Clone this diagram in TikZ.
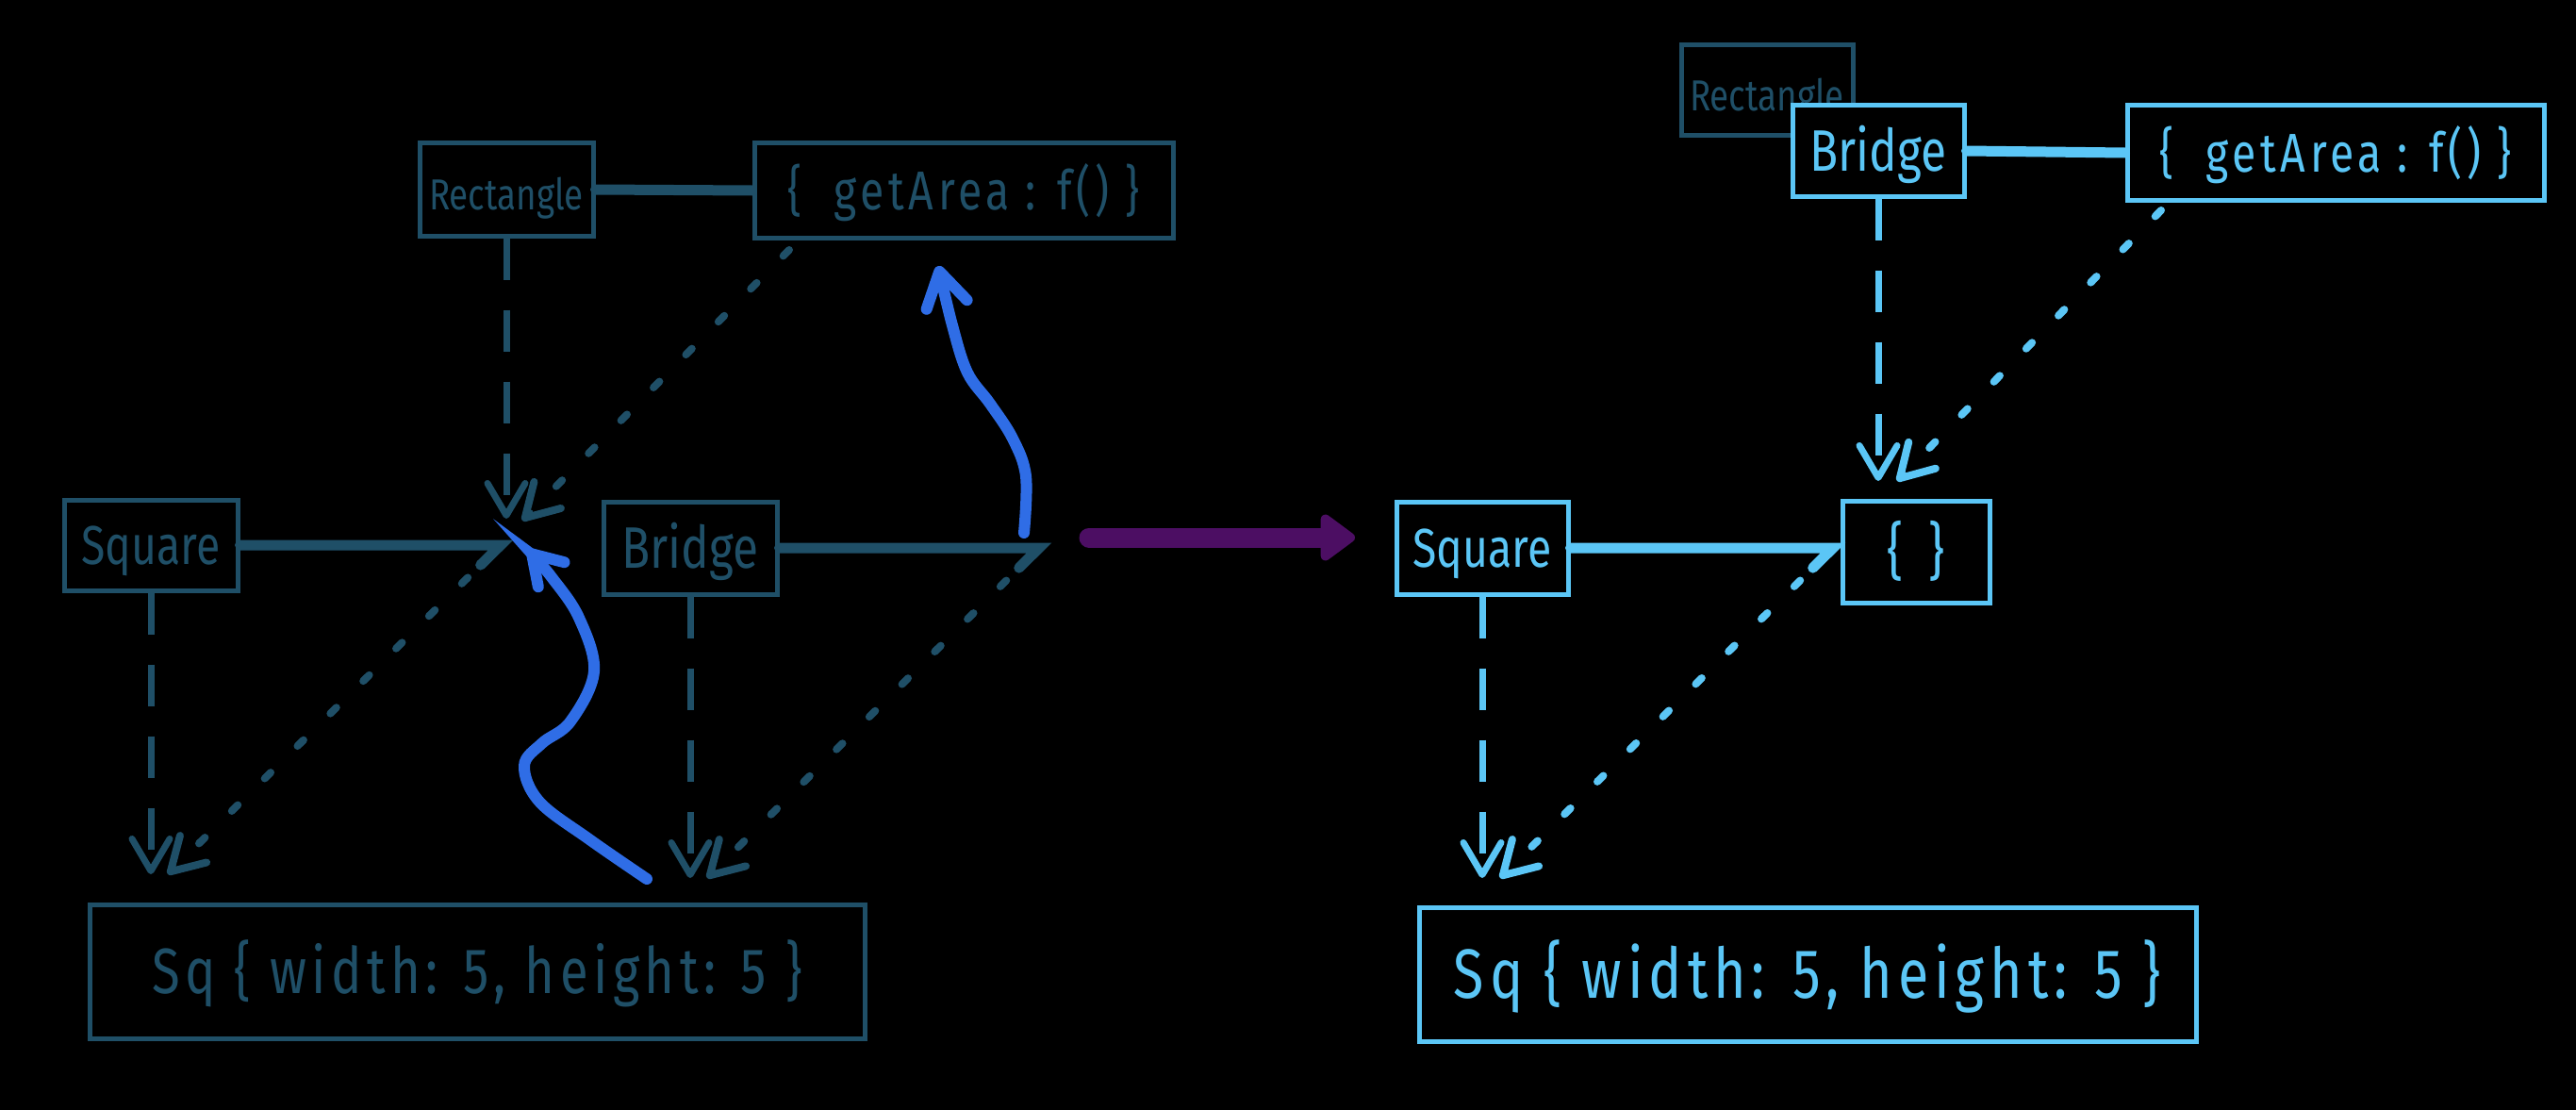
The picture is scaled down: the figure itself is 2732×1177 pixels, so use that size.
\documentclass[tikz,border=0pt]{standalone}
\usepackage{fontspec}
\newfontfamily\hand[FakeStretch=0.8]{Fira Sans}
\usetikzlibrary{arrows.meta,calc}
\definecolor{dteal}{HTML}{1F4F67}
\definecolor{lblue}{HTML}{5BC6F6}
\definecolor{ablue}{HTML}{2F6DE6}
\definecolor{purp}{HTML}{4C0E63}
\begin{document}
\begin{tikzpicture}[x=0.5pt,y=-0.5pt,
  box/.style={draw, line width=2.5pt, rectangle, inner sep=0pt, fill=black, text depth=0pt},
  boxL/.style={box, draw=dteal, text=dteal},
  boxR/.style={box, draw=lblue, text=lblue},
  fs/.style={font=\hand\fontsize{#1}{#1}\selectfont, text height=0.69*#1pt},
  wide/.style={font=\hand\fontsize{#1}{#1}\selectfont\addfontfeatures{LetterSpace=8}, text height=0.69*#1pt},
  lowtext/.style={text height=0.69*#1pt+6pt},
  solidcon/.style={line width=5.5pt, line cap=round, line join=miter},
  dashcon/.style={line width=3.5pt, dash pattern=on 22pt off 16pt, -{Straight Barb[length=17pt,width=20pt,round]}},
  dotcon/.style={line width=4pt, line cap=round, dash pattern=on 4.5pt off 20pt, -{Straight Barb[length=17pt,width=20pt,round]}},
  curvearrow/.style={ablue, line width=6pt, line cap=round, -{Straight Barb[length=15pt,width=19pt,round]}}
]
\fill[black] (0,0) rectangle (2732,1177);
\useasboundingbox (0,0) rectangle (2732,1177);

% ---------------- left diagram ----------------
\node[boxL, minimum width=92pt, minimum height=49pt, fs=23, lowtext=23] (rectL) at (537,201) {Rectangle};
\node[boxL, minimum width=222pt, minimum height=50pt, wide=29] (getL) at (1022,202) {\{\ \ getArea : f() \}};
\node[boxL, minimum width=92pt, minimum height=48pt, fs=29] (squareL) at (160,578) {Square};
\node[boxL, minimum width=92pt, minimum height=49pt, fs=31] (bridgeL) at (732,581) {Bridge};
\node[boxL, minimum width=411pt, minimum height=71pt, wide=34] (sqL) at (506,1030) {Sq \{ width: 5, height: 5 \}};

\coordinate (tRectL) at (537,550);
\coordinate (sGetL) at (837,265);
\coordinate (tGetL) at (554,552);
\coordinate (jSqL) at (531,578);
\coordinate (tSqL1) at (160,927);
\coordinate (tSqL2) at (178,927);
\coordinate (jBrL) at (1102,581);
\coordinate (tBrL1) at (732,931);
\coordinate (tBrL2) at (750,931);

\draw[dteal, dashcon] (rectL.south) -- (tRectL);
\draw[dteal, dotcon] (sGetL) -- (tGetL);
\draw[dteal, solidcon] (rectL.east) -- (getL.west);
\draw[dteal, solidcon] (squareL.east) -- (jSqL) -- ($(jSqL)!15pt!(tSqL2)$);
\draw[dteal, dotcon] (jSqL) -- (tSqL2);
\draw[dteal, dashcon] (squareL.south) -- (tSqL1);
\draw[dteal, solidcon] (bridgeL.east) -- (jBrL) -- ($(jBrL)!15pt!(tBrL2)$);
\draw[dteal, dotcon] (jBrL) -- (tBrL2);
\draw[dteal, dashcon] (bridgeL.south) -- (tBrL1);

% blue curved arrows
\coordinate (bS1) at (686,932);
\coordinate (bE1) at (560,583);
\draw[curvearrow] plot[smooth, tension=0.6] coordinates {(686,932) (625,890) (572,850) (556,812) (575,788) (605,765) (630,712) (614,655) (585,612) (560,583)};
\coordinate (bS2) at (1086,565);
\coordinate (bE2) at (995,282);
\draw[curvearrow, -{Straight Barb[length=18pt,width=22pt,round]}] plot[smooth, tension=0.6] coordinates {(1086,565) (1088,505) (1074,465) (1050,428) (1026,395) (1010,345) (995,282)};

% purple transition arrow
\coordinate (pS) at (1155,570);
\coordinate (pE) at (1437,570);
\draw[purp, line width=10.5pt, line cap=round, -{Triangle[length=20pt,width=28pt,round]}] (pS) -- (pE);

% ---------------- right diagram ----------------
\node[boxL, minimum width=91pt, minimum height=48pt, fs=23, lowtext=23] (rectR) at (1874,96) {Rectangle};
\node[boxR, minimum width=91pt, minimum height=48pt, fs=31] (bridgeR) at (1992,160) {Bridge};
\node[boxR, minimum width=221pt, minimum height=50pt, wide=29] (getR) at (2477,162) {\{\ \ getArea : f() \}};
\node[boxR, minimum width=91pt, minimum height=49pt, fs=29] (squareR) at (1572,581) {Square};
\node[boxR, minimum width=78pt, minimum height=54pt, fs=33] (emptyR) at (2032,585) {\{\ \ \}};
\node[boxR, minimum width=412pt, minimum height=71pt, wide=37] (sqR) at (1917,1033) {Sq \{ width: 5, height: 5 \}};

\coordinate (tBrR) at (1992,510);
\coordinate (sGetR) at (2292,223);
\coordinate (tGetR) at (2012,510);
\coordinate (jSqR) at (1944,581);
\coordinate (tSqR1) at (1572,931);
\coordinate (tSqR2) at (1591,931);

\draw[lblue, solidcon] (bridgeR.east) -- (getR.west);
\draw[lblue, dashcon] (bridgeR.south) -- (tBrR);
\draw[lblue, dotcon] (sGetR) -- (tGetR);
\draw[lblue, solidcon] (squareR.east) -- (jSqR) -- ($(jSqR)!15pt!(tSqR2)$);
\draw[lblue, dotcon] (jSqR) -- (tSqR2);
\draw[lblue, dashcon] (squareR.south) -- (tSqR1);
\end{tikzpicture}
\end{document}
